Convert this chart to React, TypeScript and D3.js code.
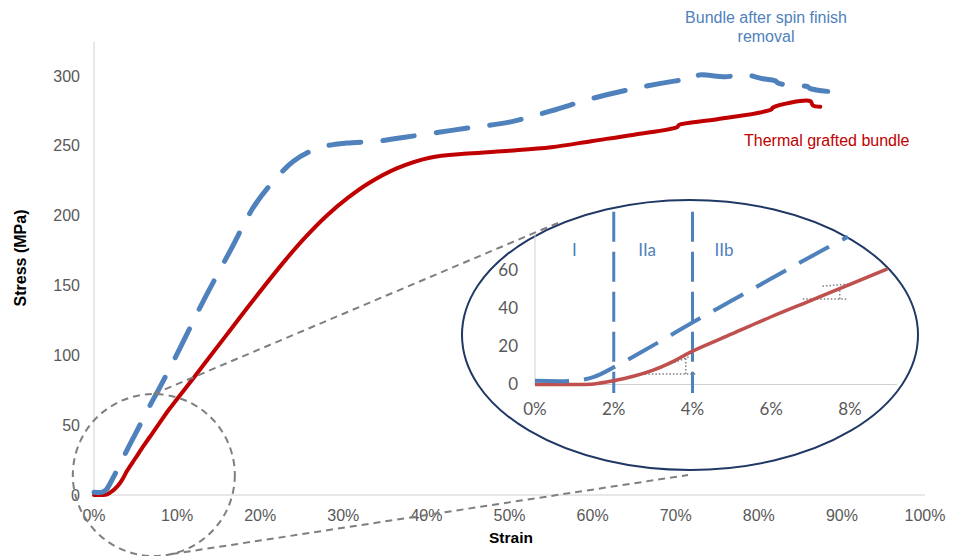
import React from "react";
import * as d3 from "d3";

// ---- data (strain in %, stress in MPa) ----
const blueStrain = [0, 1, 1.5, 2, 3, 4, 5, 6, 7, 8, 10, 13, 16.4, 19.4, 22.4, 24, 26, 28, 30.4, 34.4, 37.2, 41.3, 45.2, 50, 55, 60, 65, 70, 72.5, 72.7, 76, 78.6, 79.5, 80.5, 82, 82.3, 84, 85.8, 86.2, 88.3];
const blueStress = [2, 2, 4, 9, 20.5, 32.5, 44, 55.5, 67, 78, 101, 137, 175, 208, 230, 239, 246, 250, 252, 253.5, 256, 259.5, 263, 267, 275, 284, 291, 296.5, 298.5, 300.5, 299.5, 301, 299.5, 298, 296.5, 295, 293, 292.5, 291, 289];
const redStrain = [0, 1, 1.5, 2, 2.5, 3, 3.5, 4, 5, 6, 7, 8, 9, 12, 16, 18.9, 23, 25.5, 28, 30.5, 33, 36.5, 40.4, 45, 50, 55, 60, 65, 70.2, 70.4, 75, 81.5, 81.7, 86.2, 86.5, 87.4];
const redStress = [0, 0, 0.3, 2, 4.3, 7.5, 12, 17.5, 26.5, 35.5, 44, 52.5, 61, 84, 115, 137.5, 168, 185, 200, 212.5, 223, 234, 241.5, 244.5, 246.5, 249, 253.5, 258, 263.5, 265, 269, 276, 277.5, 282, 279, 278];

const xTicks = [0, 10, 20, 30, 40, 50, 60, 70, 80, 90, 100];
const yTicks = [0, 50, 100, 150, 200, 250, 300];
const insetXTicks = [0, 2, 4, 6, 8];
const insetYTicks = [0, 20, 40, 60];
const regionLines = [2, 4];
const regionLabels = [{ t: "I", x: 1.0 }, { t: "IIa", x: 2.85 }, { t: "IIb", x: 4.8 }];

const blueLabel = ["Bundle after spin finish", "removal"];
const redLabel = "Thermal grafted bundle";

const BLUE = "#4F81BD";
const RED = "#C00000";
const RED_INSET = "#C0504D";
const GRAY_TXT = "#595959";
const AXIS = "#D0D0D0";
const FONT = "'Liberation Sans', Arial, sans-serif";
const INSET_FONT = "Lato, 'Open Sans', sans-serif";

type P = [number, number];
const zip = (a: number[], b: number[]): P[] => a.map((v, i) => [v, b[i]]);

export default function App() {
  // main scales
  const x = d3.scaleLinear().domain([0, 100]).range([94, 925]);
  const y = d3.scaleLinear().domain([0, 300]).range([495, 76]);
  // inset scales
  const ix = d3.scaleLinear().domain([0, 8]).range([535, 850]);
  const iy = d3.scaleLinear().domain([0, 60]).range([384.5, 270]);

  const blue = zip(blueStrain, blueStress);
  const red = zip(redStrain, redStress);

  const curve = d3.curveCatmullRom.alpha(0.5);
  const mainLine = d3.line<P>().x((d) => x(d[0])).y((d) => y(d[1])).curve(curve);
  const insetLine = d3.line<P>().x((d) => ix(d[0])).y((d) => iy(d[1])).curve(curve);

  const interp = (pts: P[], s: number) => {
    for (let i = 1; i < pts.length; i++) {
      if (pts[i][0] >= s) {
        const [x0, y0] = pts[i - 1];
        const [x1, y1] = pts[i];
        return y0 + ((s - x0) / (x1 - x0)) * (y1 - y0);
      }
    }
    return pts[pts.length - 1][1];
  };
  const clip = (pts: P[], max: number): P[] => [...pts.filter((d) => d[0] < max), [max, interp(pts, max)]];
  const insetBlue = clip(blue, 7.95);
  const insetRed = clip(red, 8.95);

  // zoom circle (main data coords)
  const cx = x(7.2), cy = y(14.3), cr = 81;

  return (
    <svg width={959} height={556} style={{ position: "absolute", left: 0, top: 0, background: "#fff" }}>
      {/* main axes */}
      <line x1={x(0)} x2={x(0)} y1={42} y2={y(0)} stroke={AXIS} strokeWidth={1} />
      <line x1={x(0)} x2={x(100)} y1={y(0)} y2={y(0)} stroke={AXIS} strokeWidth={1} />
      {yTicks.map((t) => (
        <text key={t} x={80} y={y(t)} dy="0.35em" textAnchor="end" fontFamily={FONT} fontSize={16} fill={GRAY_TXT}>
          {t}
        </text>
      ))}
      {xTicks.map((t) => (
        <text key={t} x={x(t)} y={521} textAnchor="middle" fontFamily={FONT} fontSize={16} fill={GRAY_TXT}>
          {t + "%"}
        </text>
      ))}
      <text x={511} y={543} textAnchor="middle" fontFamily={FONT} fontSize={15.5} fontWeight="bold" fill="#000">
        Strain
      </text>
      <text transform="translate(26,258) rotate(-90)" textAnchor="middle" fontFamily={FONT} fontSize={16} fontWeight="bold" fill="#000">
        Stress (MPa)
      </text>

      {/* main curves */}
      <path d={mainLine(red) || ""} fill="none" stroke={RED} strokeWidth={4} strokeLinejoin="round" strokeLinecap="round" />
      <path d={mainLine(blue) || ""} fill="none" stroke={BLUE} strokeWidth={5} strokeDasharray="32 22" strokeLinecap="round" strokeLinejoin="round" />

      {/* labels */}
      {blueLabel.map((s, i) => (
        <text key={s} x={766} y={23 + i * 19} textAnchor="middle" fontFamily={FONT} fontSize={16} fill={BLUE}>
          {s}
        </text>
      ))}
      <text x={744} y={146} fontFamily={FONT} fontSize={16} fill={RED}>
        {redLabel}
      </text>

      {/* zoom indicator */}
      <circle cx={cx} cy={cy} r={cr} fill="none" stroke="#7F7F7F" strokeWidth={2} strokeDasharray="7 5" />
      <line x1={cx} y1={cy - cr} x2={560} y2={222} stroke="#7F7F7F" strokeWidth={2} strokeDasharray="7 5" />
      <line x1={cx + 18} y1={cy + cr - 2} x2={688} y2={475} stroke="#7F7F7F" strokeWidth={2} strokeDasharray="7 5" />

      {/* inset */}
      <ellipse cx={690} cy={335} rx={228} ry={135} fill="#fff" stroke="#203864" strokeWidth={2} />
      <line x1={ix(0)} x2={ix(0)} y1={iy(0)} y2={iy(79)} stroke={AXIS} strokeWidth={1} />
      <line x1={ix(0)} x2={ix(9.2)} y1={iy(0)} y2={iy(0)} stroke={AXIS} strokeWidth={1} />
      {insetYTicks.map((t) => (
        <text key={t} x={518} y={iy(t)} dy="0.35em" textAnchor="end" fontFamily={INSET_FONT} fontSize={17} fill={GRAY_TXT}>
          {t}
        </text>
      ))}
      {insetXTicks.map((t) => (
        <text key={t} x={ix(t)} y={415} textAnchor="middle" fontFamily={INSET_FONT} fontSize={17} fill={GRAY_TXT}>
          {t + "%"}
        </text>
      ))}
      {regionLines.map((t) => (
        <line key={t} x1={ix(t)} x2={ix(t)} y1={iy(90.5)} y2={iy(-4.5)} stroke={BLUE} strokeWidth={3} strokeDasharray="30 10" />
      ))}
      {regionLabels.map((r) => (
        <text key={r.t} x={ix(r.x)} y={iy(70.5)} dy="0.35em" textAnchor="middle" fontFamily={INSET_FONT} fontSize={17} fill={BLUE}>
          {r.t}
        </text>
      ))}
      {/* slope triangles */}
      <g stroke="#7F7F7F" strokeWidth={1.5} strokeDasharray="1.5 2" fill="none">
        <line x1={ix(2.79)} x2={ix(4.11)} y1={iy(5.5)} y2={iy(5.5)} />
        <line x1={ix(3.83)} x2={ix(3.83)} y1={iy(5.5)} y2={iy(14.4)} />
        <line x1={ix(2.79)} x2={ix(3.9)} y1={iy(5.5)} y2={iy(14.4)} />
        <line x1={ix(6.8)} x2={ix(7.94)} y1={iy(44.8)} y2={iy(44.8)} />
        <line x1={ix(7.74)} x2={ix(7.74)} y1={iy(44.8)} y2={iy(52.1)} />
        <line x1={ix(7.3)} x2={ix(7.95)} y1={iy(51.5)} y2={iy(52.6)} />
      </g>
      <path d={insetLine(insetRed) || ""} fill="none" stroke={RED_INSET} strokeWidth={3.5} />
      <path d={insetLine(insetBlue) || ""} fill="none" stroke={BLUE} strokeWidth={4} strokeDasharray="34 15" />
    </svg>
  );
}
